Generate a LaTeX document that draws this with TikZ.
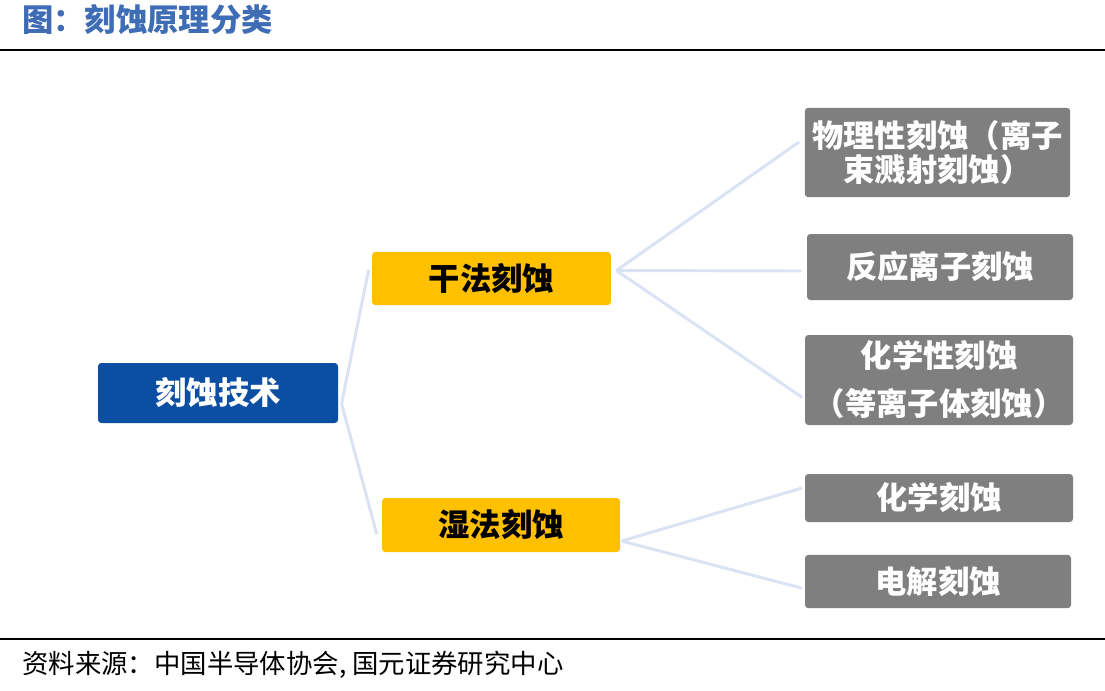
\documentclass[tikz,border=0pt]{standalone}
\usepackage{fontspec}
\setmainfont{Noto Sans CJK SC}
\definecolor{titleblue}{RGB}{62,109,181}
\definecolor{rootblue}{RGB}{11,78,162}
\definecolor{methodorange}{RGB}{255,192,0}
\definecolor{kindgray}{RGB}{127,127,127}
\definecolor{linkblue}{RGB}{218,227,243}

\begin{document}
\begin{tikzpicture}[x=0.75pt,y=-0.75pt,font=\bfseries\fontsize{23.5}{26}\selectfont,
  box/.style={rounded corners=2.5pt,inner sep=0pt,align=center},
  rootbox/.style={box,fill=rootblue,text=white},
  methodbox/.style={box,fill=methodorange,text=black},
  kindbox/.style={box,fill=kindgray,text=white},
  link/.style={draw=linkblue,line width=2.2pt}]
% page in pixels of the 1105x690 original, y running downwards
\fill[white] (0,0) rectangle (1105,690);
\useasboundingbox (0,0) rectangle (1105,690);

% header and footer rules
\node[anchor=west,inner sep=0pt,text=titleblue,font=\bfseries\fontsize{23.5}{26}\selectfont]
  (title) at (22,20) {图：刻蚀原理分类};
\draw[black,line width=2.2pt] (0,50) -- (1105,50);
\draw[black,line width=2.2pt] (0,639) -- (1105,639);
\node[anchor=west,inner sep=0pt,font=\fontsize{19.8}{22}\selectfont]
  (source) at (22,665) {资料来源：中国半导体协会, 国元证券研究中心};

% tree: root, two methods, five kinds
\node[rootbox,minimum width=180pt,minimum height=45pt] (root) at (218,393) {刻蚀技术};
\node[methodbox,minimum width=179pt,minimum height=40pt] (dry) at (491.5,278.5) {干法刻蚀};
\node[methodbox,minimum width=178.5pt,minimum height=40.5pt] (wet) at (501,525) {湿法刻蚀};

\node[kindbox,minimum width=199pt,minimum height=67pt] (phys) at (937.5,152.5)
  {物理性刻蚀（离子\\束溅射刻蚀）};
\node[kindbox,minimum width=199.5pt,minimum height=49.5pt] (rie) at (940,267) {反应离子刻蚀};
\node[kindbox,minimum width=201pt,minimum height=67.5pt] (chem) at (939,380)
  {化学性刻蚀\\[10pt]（等离子体刻蚀）};
\node[kindbox,minimum width=201pt,minimum height=36pt] (wchem) at (939,498) {化学刻蚀};
\node[kindbox,minimum width=199.5pt,minimum height=40pt] (elec) at (938,581.5) {电解刻蚀};

% connectors: each fan leaves from one point beside its parent
\coordinate (rootout) at ([xshift=2.5pt,yshift=-8pt]root.east);
\coordinate (dryout) at ([xshift=4pt,yshift=6pt]dry.east);
\coordinate (wetout) at ([xshift=1pt,yshift=-12pt]wet.east);
\draw[link] (rootout) -- ([xshift=-2.5pt,yshift=6.4pt]dry.west);
\draw[link] (rootout) -- ([xshift=-3.75pt,yshift=-6.75pt]wet.west);
\draw[link] (dryout) -- ([xshift=-4pt,yshift=8pt]phys.west);
\draw[link] (dryout) -- ([xshift=-4pt,yshift=-3pt]rie.west);
\draw[link] (dryout) -- ([xshift=-2pt,yshift=-13pt]chem.west);
\draw[link] (wetout) -- ([xshift=-2pt,yshift=7.5pt]wchem.west);
\draw[link] (wetout) -- ([xshift=-2pt,yshift=-5pt]elec.west);
\end{tikzpicture}
\end{document}
